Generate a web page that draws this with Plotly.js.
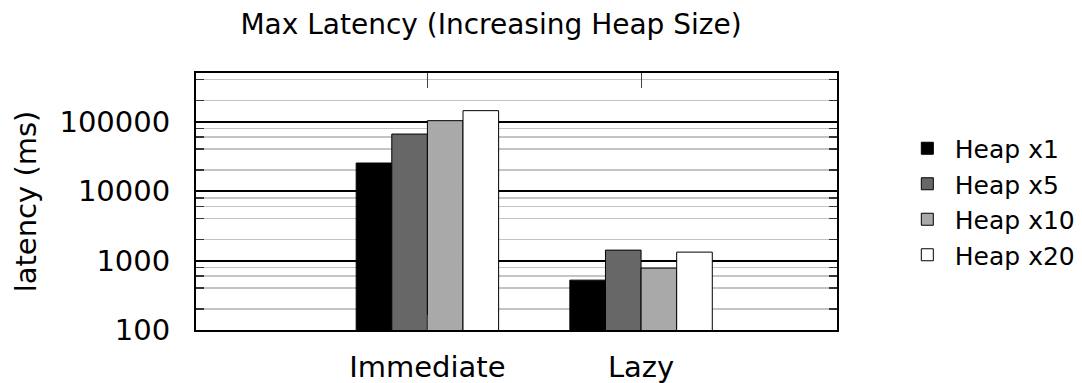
<!DOCTYPE html>
<html>
<head>
<meta charset="utf-8">
<script src="https://cdn.plot.ly/plotly-3.0.1.min.js"></script>
<style>html,body{margin:0;padding:0;background:#fff;}#chart{width:1082px;height:383px;}</style>
</head>
<body>
<div id="chart"></div>
<script>
const categories = ["Immediate", "Lazy"];
const seriesNames = ["Heap x1", "Heap x5", "Heap x10", "Heap x20"];
const heapX1 = [25300, 522];
const heapX5 = [66100, 1412];
const heapX10 = [103000, 778];
const heapX20 = [143500, 1321];
const seriesColors = ["#000000", "#676767", "#a9a9a9", "#ffffff"];
const yTickVals = [100, 1000, 10000, 100000];
const yTickText = ["100", "1000", "10000", "100000"];
const yMinorVals = [200,400,600,800,2000,4000,6000,8000,20000,40000,60000,80000,200000,400000];

const seriesValues = [heapX1, heapX5, heapX10, heapX20];
const FONT = "DejaVu Sans, sans-serif";

const traces = seriesValues.map((vals, i) => ({
  type: "bar",
  name: seriesNames[i],
  x: categories,
  y: vals,
  marker: {color: seriesColors[i], line: {color: "#000000", width: 1}},
  hoverinfo: "x+y+name"
}));

const layout = {
  width: 1082,
  height: 383,
  margin: {l: 196, r: 245, t: 73, b: 53, pad: 0, autoexpand: false},
  paper_bgcolor: "#ffffff",
  plot_bgcolor: "#ffffff",
  font: {family: FONT, size: 29, color: "#000000"},
  title: {
    text: "Max Latency (Increasing Heap Size)",
    font: {family: FONT, size: 28, color: "#000000"},
    x: 498 / 1082, xanchor: "center", xref: "paper",
    y: 1 - 24 / 383, yanchor: "middle"
  },
  barmode: "group",
  bargap: 1 / 3,
  bargroupgap: 0,
  xaxis: {
    type: "category",
    range: [-1.083, 1.917],
    showgrid: false,
    zeroline: false,
    showline: true,
    linecolor: "#000000",
    linewidth: 2,
    mirror: "ticks",
    ticks: "inside",
    ticklen: 15,
    tickwidth: 1,
    tickcolor: "#444444",
    ticklabelstandoff: 10,
    tickfont: {family: FONT, size: 29, color: "#000000"},
    fixedrange: true
  },
  yaxis: {
    type: "log",
    range: [2, Math.log10(500000)],
    tickmode: "array",
    tickvals: yTickVals,
    ticktext: yTickText,
    showgrid: true,
    gridcolor: "#000000",
    gridwidth: 2,
    zeroline: false,
    showline: true,
    linecolor: "#000000",
    linewidth: 2,
    mirror: "ticks",
    ticks: "inside",
    ticklen: 8,
    tickwidth: 1.5,
    tickcolor: "#000000",
    ticklabelstandoff: 18,
    tickfont: {family: FONT, size: 29, color: "#000000"},
    minor: {
      tickmode: "array",
      tickvals: yMinorVals,
      ticks: "inside",
      ticklen: 8,
      tickwidth: 1.5,
      tickcolor: "#333333",
      showgrid: true,
      gridcolor: "#c4c4c4",
      gridwidth: 1.5
    },
    title: {text: "latency (ms)", font: {family: FONT, size: 29, color: "#000000"}, standoff: 14},
    fixedrange: true
  },
  showlegend: true,
  legend: {
    x: 1.098, xanchor: "left",
    y: 0.5, yanchor: "middle",
    font: {family: FONT, size: 25, color: "#000000"},
    bgcolor: "rgba(0,0,0,0)",
    borderwidth: 0,
    itemwidth: 45,
    traceorder: "normal"
  }
};

Plotly.newPlot("chart", traces, layout, {displayModeBar: false, staticPlot: true});
</script>
</body>
</html>
